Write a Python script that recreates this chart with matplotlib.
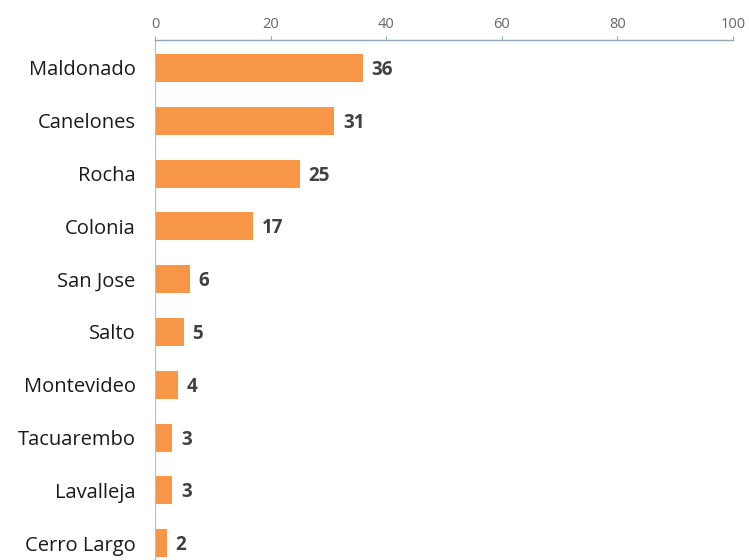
import matplotlib
matplotlib.use("Agg")
import matplotlib.pyplot as plt

categories = ["Maldonado", "Canelones", "Rocha", "Colonia", "San Jose", "Salto",
              "Montevideo", "Tacuarembo", "Lavalleja", "Cerro Largo"]
values = [36, 31, 25, 17, 6, 5, 4, 3, 3, 2]
xticks = [0, 20, 40, 60, 80, 100]

plt.rcParams['font.family'] = ['Open Sans', 'DejaVu Sans']

fig = plt.figure(figsize=(7.49, 5.60), dpi=100)
ax = fig.add_axes([155/749, 0.0, (733-155)/749, 1 - 40/560])

ypos = list(range(len(categories)))
ax.barh(ypos, values, height=0.53, color="#F79646", zorder=2)
for y, v in zip(ypos, values):
    ax.text(v + 1.5, y + 0.04, str(v), va="center", ha="left", fontsize=13.5,
            fontweight="bold", color="#404040")

ax.set_xlim(0, 100)
ax.set_ylim(9.32, -0.53)
ax.set_yticks(ypos)
ax.set_yticklabels(categories, fontsize=14.5, color="#1a1a1a")
ax.tick_params(axis="y", length=0, pad=14)
ax.xaxis.tick_top()
ax.set_xticks(xticks)
ax.set_xticklabels([str(t) for t in xticks], fontsize=10.5, color="#666666")
ax.tick_params(axis="x", length=3, color="#8fa6bb", pad=3)

for s in ["right", "bottom"]:
    ax.spines[s].set_visible(False)
ax.spines["top"].set_color("#8fa6bb")
ax.spines["top"].set_linewidth(1.0)
ax.spines["left"].set_color("#bbbbbb")
ax.spines["left"].set_linewidth(0.8)

fig.savefig("out.png", dpi=100)
